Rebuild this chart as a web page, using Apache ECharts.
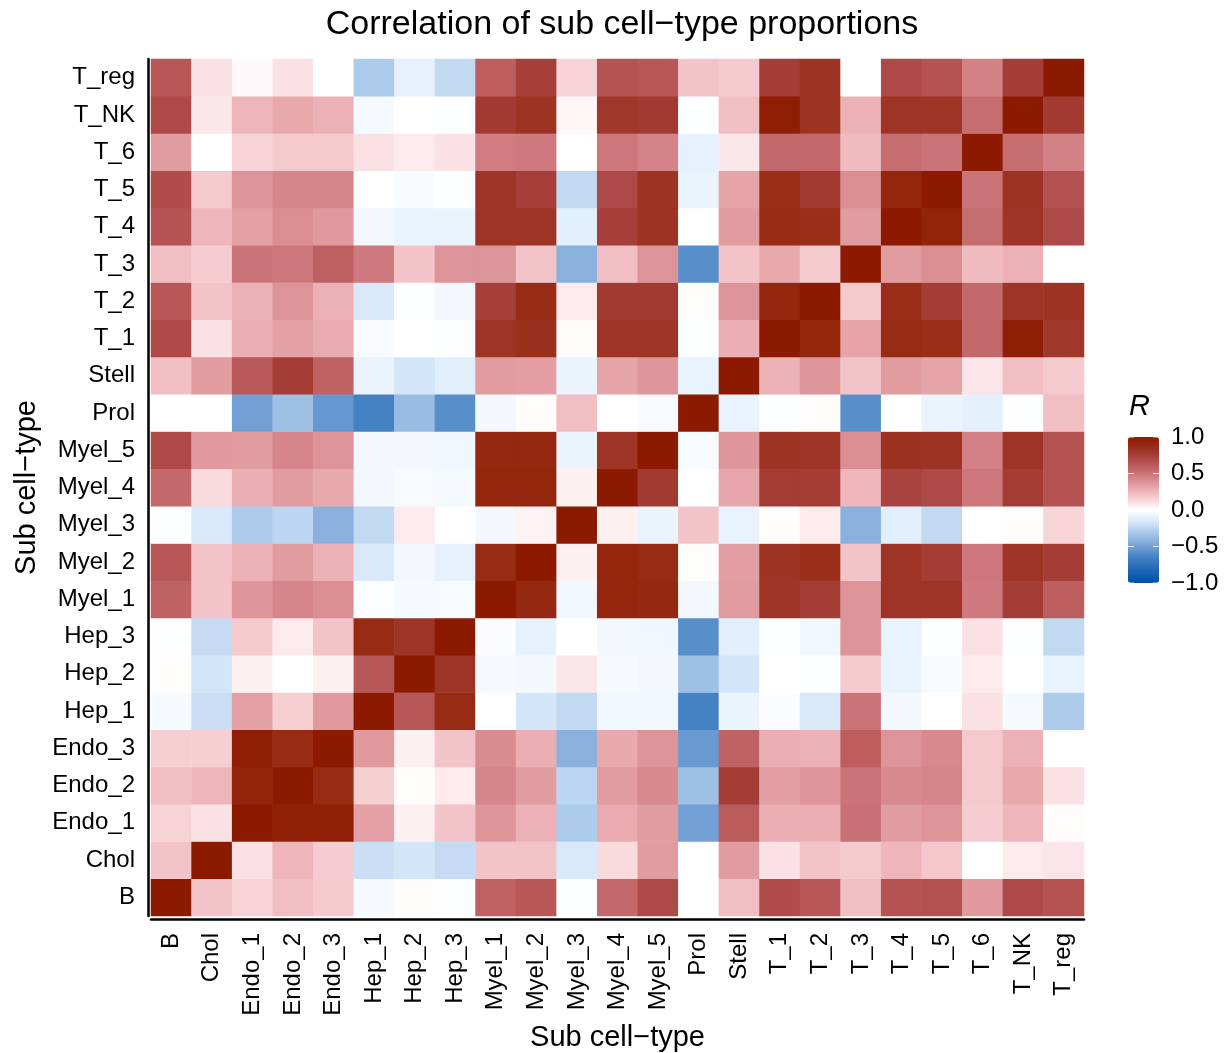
<!DOCTYPE html>
<html>
<head>
<meta charset="utf-8">
<script src="https://cdn.jsdelivr.net/npm/echarts@6/dist/echarts.min.js"></script>
<style>
html,body{margin:0;padding:0;background:#fff;}
#chart{width:1230px;height:1053px;}
</style>
</head>
<body>
<div id="chart"></div>
<script>
const categories = ["B","Chol","Endo_1","Endo_2","Endo_3","Hep_1","Hep_2","Hep_3","Myel_1","Myel_2","Myel_3","Myel_4","Myel_5","Prol","Stell","T_1","T_2","T_3","T_4","T_5","T_6","T_NK","T_reg"];

// correlation rows, columns in the order of `categories`
const r_B     = [1.0, 0.2, 0.15, 0.22, 0.18, -0.04, 0.01, -0.01, 0.58, 0.63, -0.01, 0.55, 0.7, 0.0, 0.22, 0.68, 0.63, 0.22, 0.65, 0.66, 0.36, 0.7, 0.65];
const r_Chol  = [0.2, 1.0, 0.1, 0.25, 0.17, -0.2, -0.17, -0.22, 0.2, 0.2, -0.15, 0.12, 0.35, 0.0, 0.35, 0.1, 0.2, 0.18, 0.25, 0.19, 0.0, 0.07, 0.09];
const r_Endo1 = [0.15, 0.1, 1.0, 0.95, 0.95, 0.33, 0.05, 0.2, 0.37, 0.27, -0.3, 0.29, 0.35, -0.5, 0.61, 0.28, 0.28, 0.52, 0.35, 0.38, 0.17, 0.25, 0.01];
const r_Endo2 = [0.22, 0.25, 0.94, 1.0, 0.88, 0.16, 0.01, 0.07, 0.43, 0.35, -0.25, 0.35, 0.42, -0.35, 0.76, 0.34, 0.38, 0.5, 0.42, 0.43, 0.18, 0.3, 0.1];
const r_Endo3 = [0.16, 0.16, 0.97, 0.88, 1.0, 0.36, 0.05, 0.2, 0.41, 0.28, -0.42, 0.3, 0.38, -0.53, 0.58, 0.28, 0.27, 0.6, 0.38, 0.42, 0.18, 0.27, 0.0];
const r_Hep1  = [-0.04, -0.2, 0.33, 0.16, 0.36, 1.0, 0.63, 0.88, 0.0, -0.17, -0.23, -0.06, -0.06, -0.65, -0.08, -0.02, -0.15, 0.5, -0.05, 0.0, 0.1, -0.04, -0.3];
const r_Hep2  = [0.01, -0.17, 0.05, 0.0, 0.05, 0.63, 1.0, 0.82, -0.04, -0.05, 0.08, -0.04, -0.05, -0.35, -0.17, 0.0, -0.01, 0.18, -0.09, -0.03, 0.07, 0.0, -0.09];
const r_Hep3  = [-0.01, -0.22, 0.18, 0.07, 0.2, 0.88, 0.82, 1.0, -0.02, -0.1, 0.0, -0.05, -0.06, -0.58, -0.12, -0.01, -0.06, 0.38, -0.09, -0.01, 0.1, -0.01, -0.23];
const r_Myel1 = [0.58, 0.2, 0.37, 0.43, 0.4, -0.01, -0.04, -0.03, 1.0, 0.9, -0.06, 0.92, 0.9, -0.05, 0.35, 0.82, 0.76, 0.38, 0.82, 0.82, 0.48, 0.76, 0.6];
const r_Myel2 = [0.63, 0.2, 0.27, 0.35, 0.27, -0.15, -0.05, -0.1, 0.88, 1.0, 0.05, 0.92, 0.88, 0.01, 0.34, 0.83, 0.86, 0.2, 0.82, 0.76, 0.49, 0.82, 0.76];
const r_Myel3 = [-0.01, -0.15, -0.3, -0.25, -0.42, -0.23, 0.07, 0.0, -0.05, 0.04, 1.0, 0.05, -0.08, 0.2, -0.09, 0.01, 0.07, -0.42, -0.12, -0.23, 0.0, 0.01, 0.14];
const r_Myel4 = [0.55, 0.12, 0.28, 0.35, 0.3, -0.05, -0.03, -0.04, 0.92, 0.92, 0.05, 1.0, 0.78, 0.0, 0.31, 0.77, 0.77, 0.25, 0.73, 0.7, 0.49, 0.77, 0.65];
const r_Myel5 = [0.7, 0.36, 0.35, 0.43, 0.38, -0.05, -0.05, -0.06, 0.9, 0.9, -0.08, 0.82, 1.0, -0.03, 0.37, 0.83, 0.82, 0.4, 0.84, 0.83, 0.45, 0.82, 0.65];
const r_Prol  = [0.0, 0.0, -0.5, -0.35, -0.54, -0.65, -0.37, -0.58, -0.05, 0.01, 0.22, 0.0, -0.03, 1.0, -0.09, -0.01, 0.01, -0.58, 0.0, -0.08, -0.11, -0.01, 0.22];
const r_Stell = [0.22, 0.35, 0.62, 0.76, 0.58, -0.08, -0.17, -0.12, 0.35, 0.34, -0.08, 0.32, 0.37, -0.09, 1.0, 0.27, 0.38, 0.2, 0.35, 0.32, 0.09, 0.22, 0.18];
const r_T1    = [0.7, 0.1, 0.28, 0.33, 0.29, -0.03, 0.0, -0.01, 0.82, 0.85, 0.01, 0.82, 0.82, -0.01, 0.28, 1.0, 0.92, 0.32, 0.88, 0.86, 0.56, 0.97, 0.8];
const r_T2    = [0.63, 0.2, 0.27, 0.38, 0.27, -0.15, -0.01, -0.05, 0.75, 0.88, 0.07, 0.78, 0.78, 0.01, 0.38, 0.92, 1.0, 0.18, 0.86, 0.76, 0.55, 0.82, 0.83];
const r_T3    = [0.22, 0.17, 0.5, 0.49, 0.59, 0.48, 0.2, 0.38, 0.38, 0.2, -0.42, 0.22, 0.38, -0.58, 0.2, 0.3, 0.18, 1.0, 0.35, 0.4, 0.23, 0.27, 0.0];
const r_T4    = [0.65, 0.25, 0.33, 0.4, 0.36, -0.05, -0.09, -0.09, 0.82, 0.82, -0.12, 0.75, 0.83, 0.0, 0.35, 0.88, 0.86, 0.35, 1.0, 0.93, 0.53, 0.82, 0.7];
const r_T5    = [0.68, 0.18, 0.38, 0.43, 0.43, 0.0, -0.03, -0.01, 0.82, 0.75, -0.23, 0.7, 0.83, -0.08, 0.32, 0.87, 0.78, 0.4, 0.92, 1.0, 0.5, 0.83, 0.66];
const r_T6    = [0.35, 0.0, 0.15, 0.18, 0.18, 0.1, 0.07, 0.1, 0.47, 0.48, 0.0, 0.49, 0.44, -0.1, 0.08, 0.55, 0.55, 0.23, 0.53, 0.5, 1.0, 0.53, 0.45];
const r_TNK   = [0.7, 0.08, 0.25, 0.3, 0.27, -0.04, 0.0, -0.01, 0.78, 0.83, 0.03, 0.8, 0.78, -0.01, 0.22, 0.98, 0.83, 0.27, 0.82, 0.82, 0.53, 1.0, 0.78];
const r_Treg  = [0.63, 0.1, 0.02, 0.1, 0.0, -0.3, -0.1, -0.23, 0.6, 0.75, 0.15, 0.65, 0.63, 0.2, 0.18, 0.76, 0.83, 0.0, 0.7, 0.65, 0.45, 0.76, 1.0];

const rows = [r_B, r_Chol, r_Endo1, r_Endo2, r_Endo3, r_Hep1, r_Hep2, r_Hep3, r_Myel1, r_Myel2, r_Myel3, r_Myel4, r_Myel5, r_Prol, r_Stell, r_T1, r_T2, r_T3, r_T4, r_T5, r_T6, r_TNK, r_Treg];

const legendTicks = [1.0, 0.5, 0.0, -0.5, -1.0];
const legendTickLabels = ["1.0", "0.5", "0.0", "\u22120.5", "\u22121.0"];

const colorStops = ["#0050aa","#1460b2","#2e70ba","#4a86c6","#72a0d4","#97bbe2","#bcd5f0","#e0eefc","#ffffff",
                    "#f9d9dd","#eeb6bb","#de9599","#cb7478","#b85858","#a63f3a","#982c14","#8b1a00"];

const data = [];
rows.forEach((row, yi) => row.forEach((v, xi) => data.push([xi, yi, v])));

const FONT = "Liberation Sans, Arial, Helvetica, sans-serif";
const barLeft = 1128, barTop = 437, barW = 31, barH = 146;

const graphics = [];
legendTicks.forEach((t, i) => {
  const y = barTop + (1 - t) / 2 * barH;
  graphics.push({type:'line', shape:{x1:barLeft, y1:y, x2:barLeft+6, y2:y}, style:{stroke:'#fff', lineWidth:1, opacity:0.8}, z:100});
  graphics.push({type:'line', shape:{x1:barLeft+barW-6, y1:y, x2:barLeft+barW, y2:y}, style:{stroke:'#fff', lineWidth:1, opacity:0.8}, z:100});
  graphics.push({type:'text', x:barLeft+barW+12, y:y, style:{text:legendTickLabels[i], font:'24px ' + FONT, fill:'#000', textVerticalAlign:'middle', verticalAlign:'middle'}, z:100});
});
graphics.push({type:'text', x:barLeft+1, y:407, style:{text:'R', font:'italic 29px ' + FONT, fill:'#000', verticalAlign:'middle', textVerticalAlign:'middle'}, z:100});

const chart = echarts.init(document.getElementById('chart'), null, {renderer:'canvas'});
chart.setOption({
  backgroundColor:'#fff',
  animation:false,
  title:{
    text:'Correlation of sub cell\u2212type proportions',
    left:617, top:3, textAlign:'center',
    textStyle:{fontFamily:FONT, fontSize:34, fontWeight:'normal', color:'#000'}
  },
  grid:{left:151, right:146, top:59, bottom:137, containLabel:false, outerBoundsMode:'none'},
  xAxis:{
    type:'category', data:categories, offset:3,
    axisLine:{show:true, lineStyle:{color:'#000', width:2.5}},
    axisTick:{show:false},
    splitLine:{show:false},
    axisLabel:{rotate:90, fontFamily:FONT, fontSize:24, color:'#000', margin:14, interval:0},
    name:'Sub cell\u2212type', nameLocation:'middle', nameGap:103,
    nameTextStyle:{fontFamily:FONT, fontSize:29, color:'#000'}
  },
  yAxis:{
    type:'category', data:categories, offset:3,
    axisLine:{show:true, lineStyle:{color:'#000', width:2.5}},
    axisTick:{show:false},
    splitLine:{show:false},
    axisLabel:{fontFamily:FONT, fontSize:24, color:'#000', margin:13, interval:0},
    name:'Sub cell\u2212type', nameLocation:'middle', nameGap:106,
    nameTextStyle:{fontFamily:FONT, fontSize:29, color:'#000'}
  },
  visualMap:{
    type:'continuous', min:-1, max:1, calculable:false, show:true,
    left:barLeft, top:barTop, itemWidth:barW, itemHeight:barH, padding:0,
    text:null, showLabel:false,
    inRange:{color:colorStops}
  },
  series:[{
    type:'heatmap', data:data,
    itemStyle:{borderWidth:0},
    emphasis:{disabled:true}
  }],
  graphic:graphics
});
</script>
</body>
</html>
